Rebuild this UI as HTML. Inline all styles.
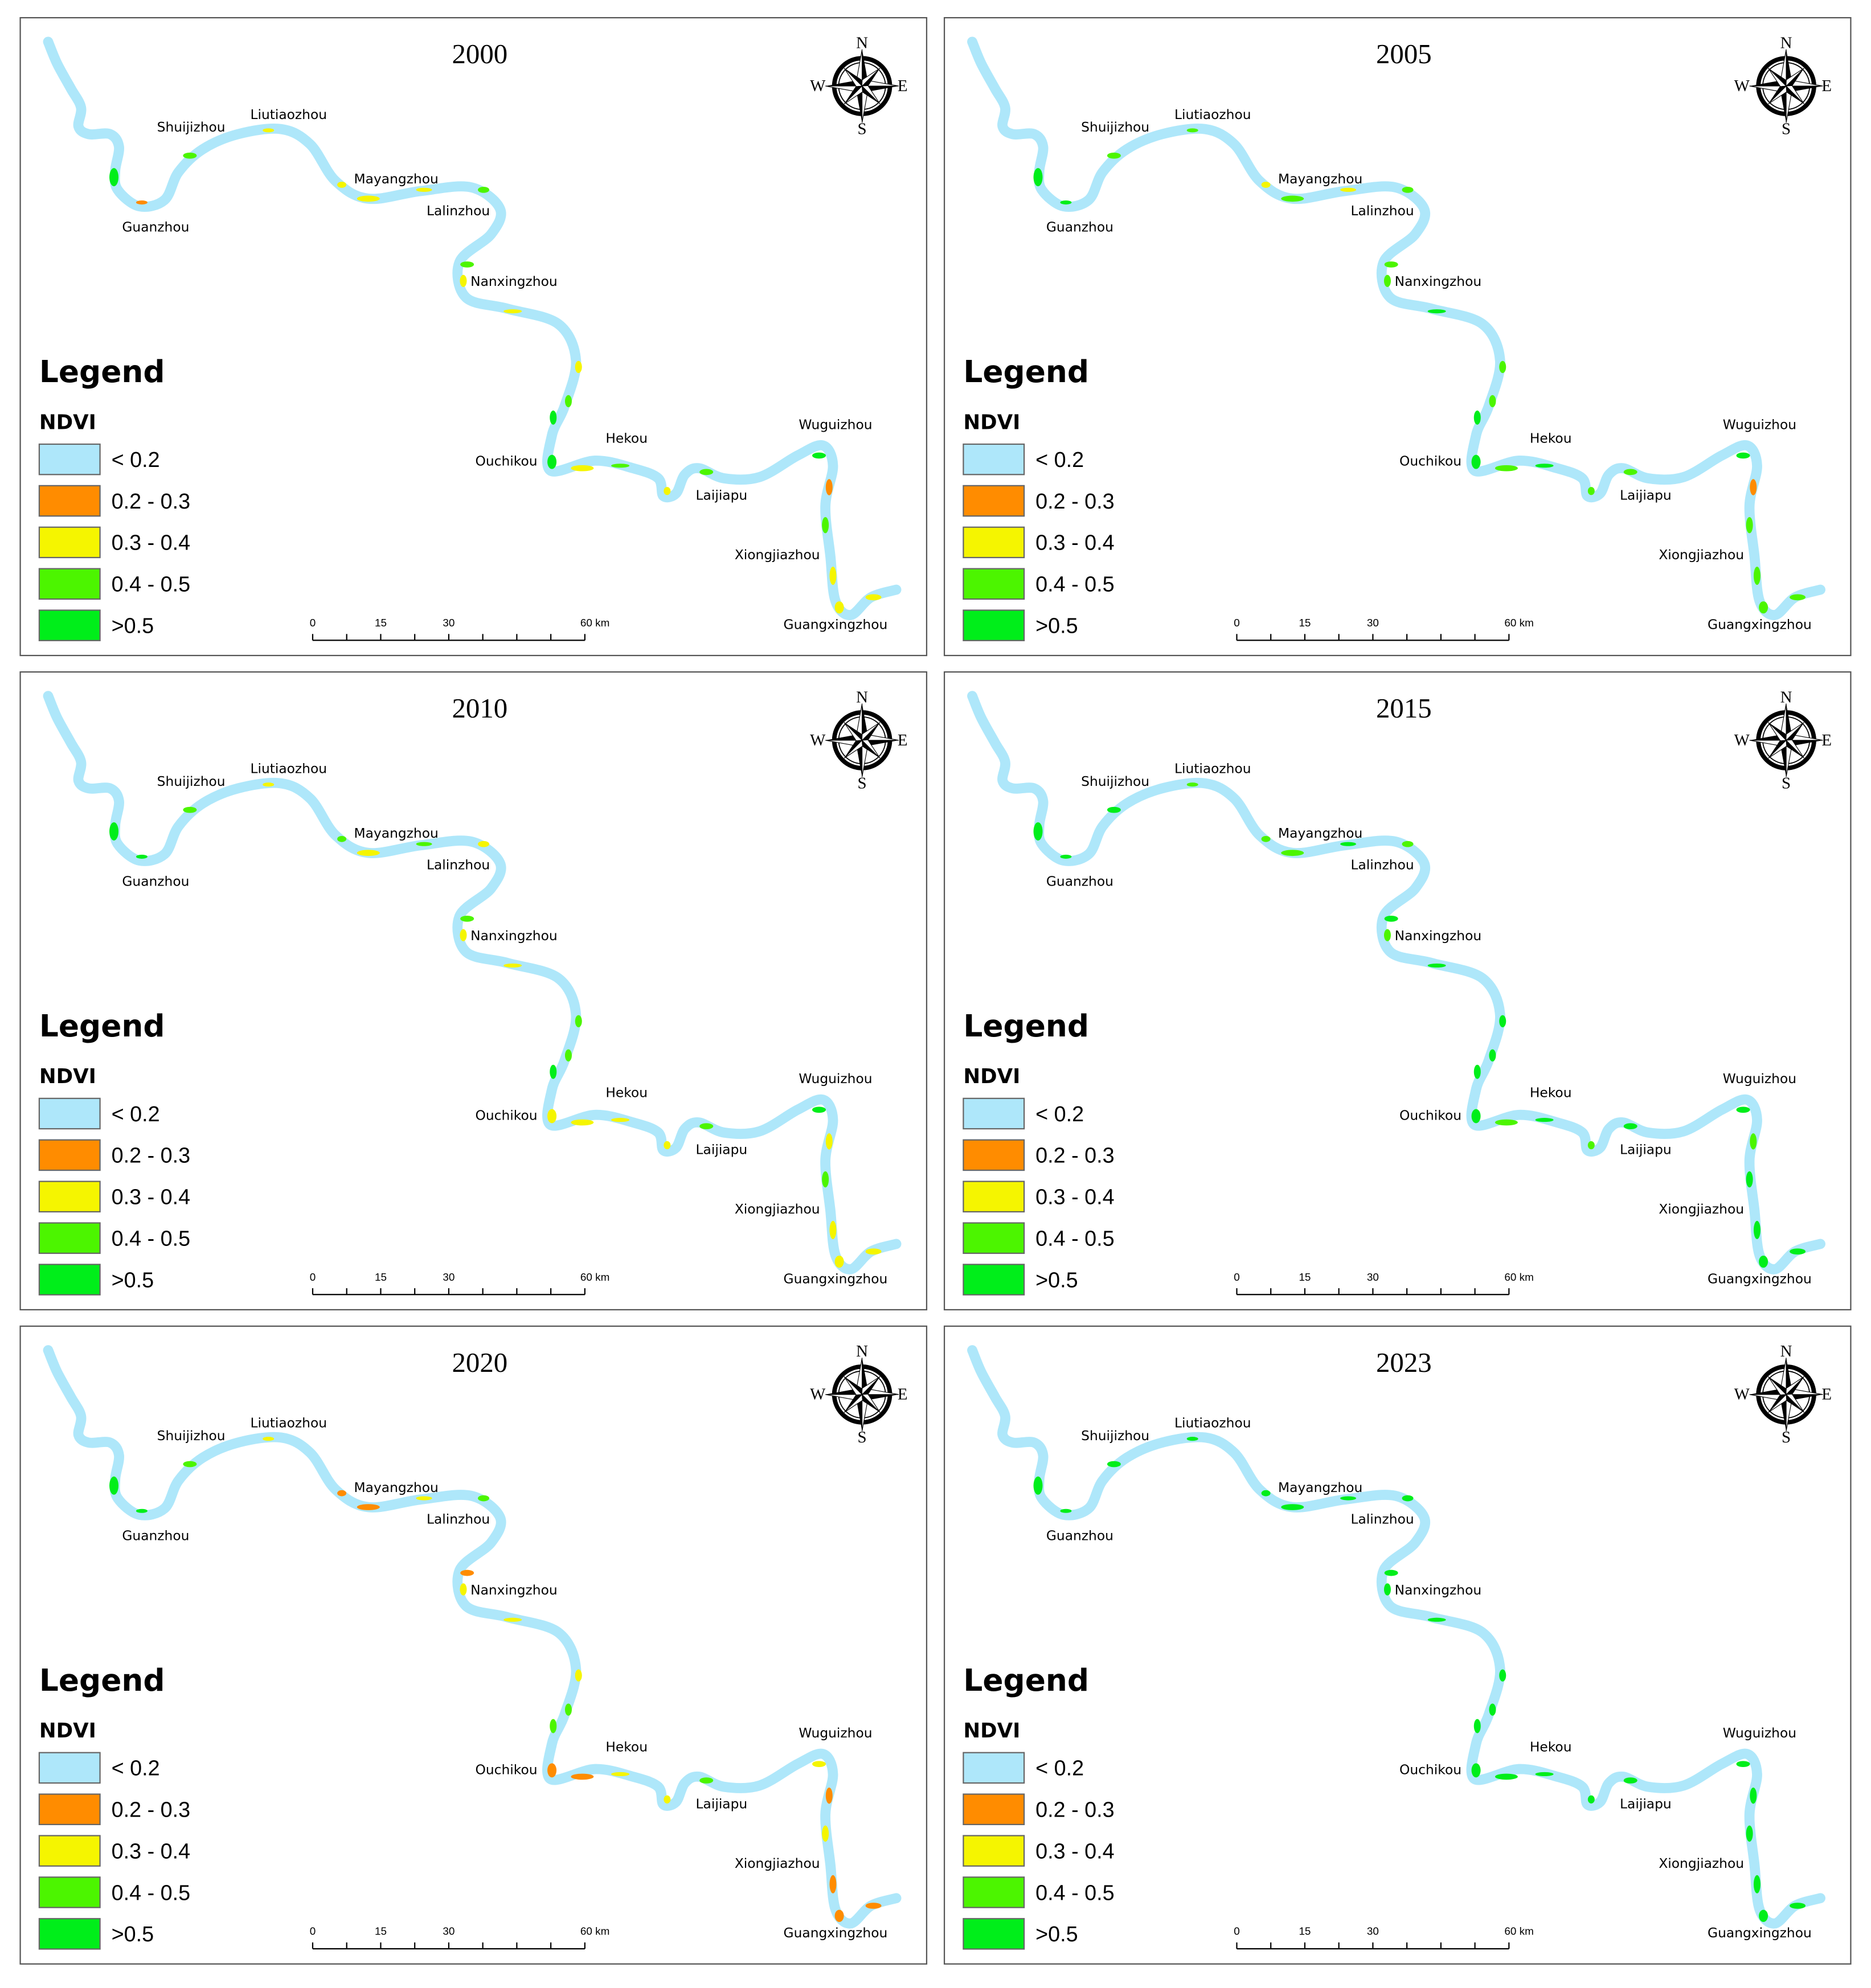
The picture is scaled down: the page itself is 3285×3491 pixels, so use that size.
<!DOCTYPE html>
<html><head><meta charset="utf-8"><style>html,body{margin:0;padding:0;background:#fff}svg{display:block}</style></head>
<body>
<svg id="fig" xmlns="http://www.w3.org/2000/svg" width="3285" height="3491" viewBox="0 0 1478 1571" preserveAspectRatio="none"></svg>
<script>
const years = ["2000","2005","2010","2015","2020","2023"];
const legendLabels = ["< 0.2","0.2 - 0.3","0.3 - 0.4","0.4 - 0.5",">0.5"];
const legendColors = ["#aee7fa","#ff8c00","#f5f500","#4cf500","#00ee1a"];
const scaleLabels = ["0","15","30","60 km"];
const scaleValues = [0,15,30,60];
const places = [["Shuijizhou",151,100],["Liutiaozhou",228,90],["Mayangzhou",313,141],["Lalinzhou",362,166],["Guanzhou",123,179],["Nanxingzhou",406,222],["Ouchikou",400,364],["Hekou",495,346],["Wuguizhou",660,335],["Laijiapu",570,391],["Xiongjiazhou",614,438],["Guangxingzhou",660,493]];
const river = [[38,33],[45,50],[56,70],[64,85],[62,100],[70,106],[87,106],[94,116],[91,135],[93,150],[110,163],[130,158],[141,136],[160,118],[188,106],[222,102],[245,114],[265,143],[291,157],[332,151],[372,148],[395,165],[388,185],[363,207],[368,235],[401,244],[441,256],[455,285],[446,321],[436,344],[435,372],[470,364],[500,370],[520,378],[524,392],[534,390],[541,375],[552,370],[572,378],[600,377],[630,360],[650,352],[658,368],[652,400],[656,440],[660,475],[672,486],[688,472],[708,466]];
const patches = [[90,140,4,9],[112,160,5,2],[150,123,6,3],[212,103,5,2],[270,146,4,3],[291,157,10,3],[335,150,7,2],[382,150,5,3],[369,209,6,3],[366,222,3,6],[405,246,8,2],[457,290,3,6],[449,317,3,6],[437,330,3,7],[436,365,4,7],[460,370,10,3],[490,368,8,2],[527,388,3,4],[558,373,6,3],[647,360,6,3],[655,385,3,8],[652,415,3,8],[658,455,3,9],[663,480,4,6],[690,472,7,3]];
const patchClass = {
 "2000":[4,1,3,2,2,2,2,3,3,2,2,2,3,4,4,2,3,2,3,4,1,3,2,2,2],
 "2005":[4,4,3,3,2,3,2,3,3,3,4,3,3,4,4,3,4,3,3,4,1,3,3,3,3],
 "2010":[4,4,3,2,3,2,3,2,3,2,2,3,3,4,2,2,2,2,3,4,2,3,2,2,2],
 "2015":[4,4,4,3,3,3,4,3,4,3,4,4,4,4,4,3,4,3,4,4,3,4,4,4,4],
 "2020":[4,4,3,2,1,1,2,3,1,2,2,2,3,3,1,1,2,2,3,2,1,2,1,1,1],
 "2023":[4,4,4,4,4,4,4,4,4,4,4,4,4,4,4,4,4,4,4,4,4,4,4,4,4]
};
const NS="http://www.w3.org/2000/svg";
const svg=document.getElementById('fig');
function mk(tag,attrs,parent,text){const e=document.createElementNS(NS,tag);for(const k in attrs)e.setAttribute(k,attrs[k]);if(text!==undefined)e.textContent=text;parent.appendChild(e);return e;}
const sx=v=>247+v*(215/60);
function smooth(pts){let d='M'+pts[0].join(',');for(let i=0;i<pts.length-1;i++){const p0=pts[Math.max(0,i-1)],p1=pts[i],p2=pts[i+1],p3=pts[Math.min(pts.length-1,i+2)];const c1=[p1[0]+(p2[0]-p0[0])/6,p1[1]+(p2[1]-p0[1])/6],c2=[p2[0]-(p3[0]-p1[0])/6,p2[1]-(p3[1]-p1[1])/6];d+=` C${c1[0].toFixed(1)},${c1[1].toFixed(1)} ${c2[0].toFixed(1)},${c2[1].toFixed(1)} ${p2[0]},${p2[1]}`;}return d;}
years.forEach((yr,i)=>{
 const ox=16+(i%2)*730, oy=14+Math.floor(i/2)*517;
 const g=mk('g',{transform:`translate(${ox},${oy})`},svg);
 
 
 const fr=mk('rect',{x:0,y:0,width:716,height:504,fill:'#fff',stroke:'#555','stroke-width':1},g);
 
 
 const t=mk('text',{x:363,y:36,'font-family':'Liberation Serif, serif','font-size':22,'text-anchor':'middle'},g,yr);
 
 
 const inner=mk('g',{transform:'translate(-16,-14)'},g);
 const rv=mk('path',{d:smooth(river),fill:'none',stroke:'#aee7fa','stroke-width':8,'stroke-linejoin':'round','stroke-linecap':'round'},inner);
 
 
 patches.forEach((p,j)=>{
  const c=mk('ellipse',{cx:p[0],cy:p[1],rx:p[2]*0.9,ry:p[3]*0.8,fill:legendColors[patchClass[yr][j]]},inner);
  
  
 });
 places.forEach(p=>{
  const l=mk('text',{x:p[1],y:p[2]+4,'font-family':'DejaVu Sans, sans-serif','font-size':10.5,'text-anchor':'middle'},inner,p[0]);
  
  
 });
 const cp=mk('g',{transform:'translate(681,68)'},inner);
 
 
 mk('circle',{r:22,fill:'none',stroke:'#000','stroke-width':3.5},cp);
 mk('circle',{r:18.5,fill:'none',stroke:'#000','stroke-width':0.8},cp);
 [0,90,180,270].forEach(a=>{mk('polygon',{points:'0,-29 4.5,-4 0,0',fill:'#000',transform:`rotate(${a})`},cp);mk('polygon',{points:'0,-29 -4.5,-4 0,0',fill:'#fff',stroke:'#000','stroke-width':0.5,transform:`rotate(${a})`},cp);});
 [45,135,225,315].forEach(a=>{mk('polygon',{points:'0,-20 3.5,-3 0,0',fill:'#000',transform:`rotate(${a})`},cp);mk('polygon',{points:'0,-20 -3.5,-3 0,0',fill:'#fff',stroke:'#000','stroke-width':0.5,transform:`rotate(${a})`},cp);});
 [['N',0,-30],['S',0,38],['W',-35,4],['E',32,4]].forEach(q=>mk('text',{x:q[1],y:q[2],'font-family':'Liberation Serif, serif','font-size':13,'text-anchor':'middle'},cp,q[0]));
 const lg=mk('g',{},inner);
 
 
 mk('text',{x:31,y:302,'font-family':'DejaVu Sans, sans-serif','font-weight':'bold','font-size':24},lg,'Legend');
 mk('text',{x:31,y:339,'font-family':'DejaVu Sans, sans-serif','font-weight':'bold','font-size':16},lg,'NDVI');
 legendLabels.forEach((lab,k)=>{
  const y=351+k*32.8;
  const b=mk('rect',{x:31,y:y,width:48,height:24,fill:legendColors[k],stroke:'#666','stroke-width':1},lg);
  
  
  mk('text',{x:88,y:y+18,'font-family':'Liberation Sans, sans-serif','font-size':17},lg,lab);
 });
 const sb=mk('g',{},inner);
 
 
 mk('line',{x1:sx(0),y1:506,x2:sx(60),y2:506,stroke:'#000','stroke-width':1},sb);
 for(let k=0;k<=8;k++){const v=k*7.5;mk('line',{x1:sx(v),y1:501,x2:sx(v),y2:506,stroke:'#000','stroke-width':1},sb);}
 scaleValues.forEach((v,k)=>mk('text',{x:sx(v)+(k==3?8:0),y:495,'font-family':'Liberation Sans, sans-serif','font-size':8.5,'text-anchor':'middle'},sb,scaleLabels[k]));
});
</script>
</body></html>
